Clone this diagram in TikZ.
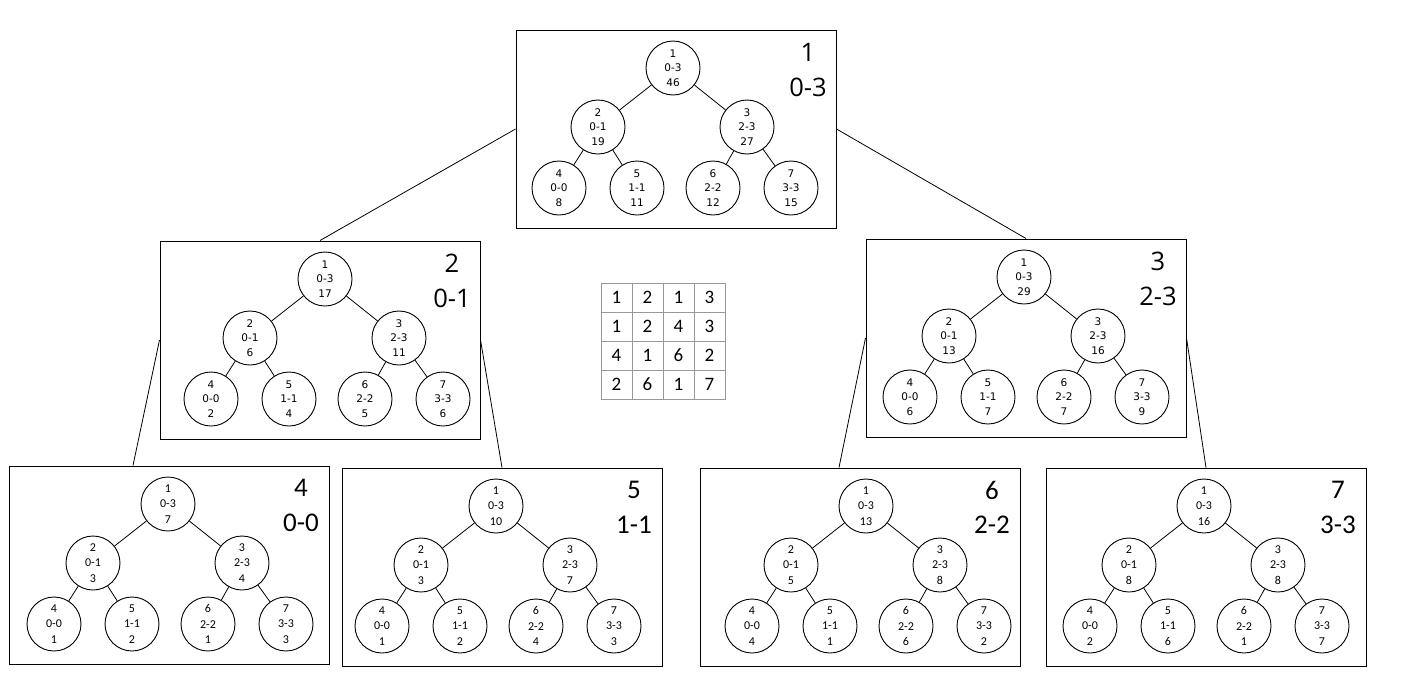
\documentclass[tikz,border=0pt]{standalone}
\usepackage{fontspec}
\newfontfamily\circfont{DejaVu Sans}
\newfontfamily\bigfont{Open Sans}
\newfontfamily\calfont{Carlito}
\tikzset{
  treebox/.style={draw, line width=1pt, minimum width=320pt, minimum height=198pt, inner sep=0pt},
  tcirc/.style={circle, draw, line width=0.9pt, minimum size=54pt, inner sep=0pt, align=center,
    font=\circfont\fontsize{10.5}{14.6}\selectfont},
  bcirc/.style={circle, draw, line width=0.9pt, minimum size=54pt, inner sep=0pt, align=center,
    font=\calfont\fontsize{12}{15.4}\selectfont},
  tlab/.style={inner sep=0pt, font=\bigfont\fontsize{25.5}{28}\selectfont},
  blab/.style={inner sep=0pt, font=\calfont\fontsize{27}{30}\selectfont},
  edge/.style={line width=0.8pt},
  link/.style={line width=0.8pt},
  cell/.style={draw=gray!80, line width=0.8pt, minimum width=31pt, minimum height=29pt, inner sep=0pt,
    anchor=center, font=\calfont\fontsize{19}{22}\selectfont}
}
\def\mktreevals#1/#2/#3/#4/#5/#6/#7\relax{%
  \def\tva{#1}\def\tvb{#2}\def\tvc{#3}\def\tvd{#4}\def\tve{#5}\def\tvf{#6}\def\tvg{#7}}
% #1 name, #2 left, #3 top, #4 dx, #5 big number, #6 big range, #7 variant t/b, #8 values
\newcommand\mktree[8]{%
  \mktreevals#8\relax
  \node[treebox] (#1) at (#2+160,#3+99) {};
  \node[#7circ] (#1-1) at (#2+157+#4,#3+38) {1\\0-3\\\tva};
  \node[#7circ] (#1-2) at (#2+82+#4,#3+97) {2\\0-1\\\tvb};
  \node[#7circ] (#1-3) at (#2+231+#4,#3+97) {3\\2-3\\\tvc};
  \node[#7circ] (#1-4) at (#2+43+#4,#3+158) {4\\0-0\\\tvd};
  \node[#7circ] (#1-5) at (#2+121+#4,#3+158) {5\\1-1\\\tve};
  \node[#7circ] (#1-6) at (#2+197+#4,#3+158) {6\\2-2\\\tvf};
  \node[#7circ] (#1-7) at (#2+275+#4,#3+158) {7\\3-3\\\tvg};
  \draw[edge] (#1-1) -- (#1-2);
  \draw[edge] (#1-1) -- (#1-3);
  \draw[edge] (#1-2) -- (#1-4);
  \draw[edge] (#1-2) -- (#1-5);
  \draw[edge] (#1-3) -- (#1-6);
  \draw[edge] (#1-3) -- (#1-7);
  \node[#7lab] (#1-n) at (#2+292,#3+22) {#5};
  \node[#7lab] (#1-r) at (#2+292,#3+57) {#6};
}
\begin{document}
\begin{tikzpicture}[x=1pt, y=-1pt]
\useasboundingbox (0,0) rectangle (1401,675);
\mktree{t}{516}{30}{0}{1}{0-3}{t}{46/19/27/8/11/12/15}
\mktree{b2}{160}{241}{8}{2}{0-1}{t}{17/6/11/2/4/5/6}
\mktree{b3}{866}{239}{1}{3}{2-3}{t}{29/13/16/6/7/7/9}
\mktree{b4}{9}{466}{2}{4}{0-0}{b}{7/3/4/1/2/1/3}
\mktree{b5}{342}{468}{-3}{5}{1-1}{b}{10/3/7/1/2/4/3}
\mktree{b6}{700}{468}{9}{6}{2-2}{b}{13/5/8/4/1/6/2}
\mktree{b7}{1046}{468}{1}{7}{3-3}{b}{16/8/8/2/6/1/7}
\draw[link] (t.west) -- (b2.north);
\draw[link] (t.east) -- (b3.north);
\draw[link] (b2.west) -- ([xshift=-36pt]b4.north);
\draw[link] (b2.east) -- (b5.north);
\draw[link] (b3.west) -- ([xshift=-21pt]b6.north);
\draw[link] (b3.east) -- (b7.north);
\foreach \r/\row in {0/{1,2,1,3}, 1/{1,2,4,3}, 2/{4,1,6,2}, 3/{2,6,1,7}} {
  \foreach \v [count=\c from 0] in \row {
    \node[cell] (cell-\r-\c) at (616.5+31*\c, 297.5+29*\r) {\v};
  }
}
\end{tikzpicture}
\end{document}
